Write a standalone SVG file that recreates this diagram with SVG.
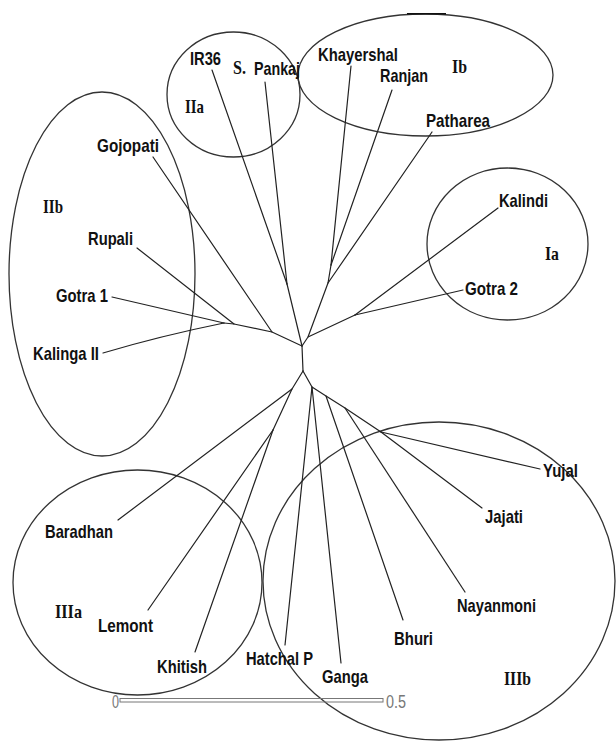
<svg xmlns="http://www.w3.org/2000/svg" width="616" height="745" viewBox="0 0 616 745">
<style>
.lbl{font-family:"Liberation Sans",Arial,sans-serif;font-weight:bold;font-size:19px;fill:#111}
.grp{font-family:"Liberation Serif","Times New Roman",serif;font-weight:bold;font-size:19px;fill:#111}
.scl{font-family:"Liberation Sans",Arial,sans-serif;font-size:19px;fill:#777}
.edge{stroke:#222;stroke-width:1.2;fill:none;stroke-linecap:round;stroke-linejoin:round}
.clu{fill:none;stroke:#333;stroke-width:1.3}
</style>
<rect width="616" height="745" fill="#fff"/>

<g id="clusters">
  <g id="cluster-IIa"><ellipse class="clu" cx="233.5" cy="94.5" rx="66.5" ry="62.5"/><text class="grp" x="185" y="113" textLength="19" lengthAdjust="spacingAndGlyphs">IIa</text></g>
  <g id="cluster-Ib"><ellipse class="clu" cx="425.5" cy="75" rx="127.5" ry="61"/><line x1="407" y1="13.8" x2="446" y2="13.8" stroke="#111" stroke-width="1.6"/><text class="grp" x="452" y="73" textLength="15" lengthAdjust="spacingAndGlyphs">Ib</text></g>
  <g id="cluster-Ia"><ellipse class="clu" cx="507.5" cy="244" rx="80.5" ry="76"/><text class="grp" x="545" y="260" textLength="14" lengthAdjust="spacingAndGlyphs">Ia</text></g>
  <g id="cluster-IIb"><ellipse class="clu" cx="102" cy="274" rx="93" ry="182"/><text class="grp" x="43" y="213" textLength="20" lengthAdjust="spacingAndGlyphs">IIb</text></g>
  <g id="cluster-IIIa"><ellipse class="clu" cx="137.5" cy="582.5" rx="124.5" ry="112.5"/><text class="grp" x="55" y="618" textLength="27" lengthAdjust="spacingAndGlyphs">IIIa</text></g>
  <g id="cluster-IIIb"><ellipse class="clu" cx="439" cy="581" rx="176" ry="159"/><text class="grp" x="504" y="685" textLength="27" lengthAdjust="spacingAndGlyphs">IIIb</text></g>
</g>

<g id="connectors">
  <!-- internal -->
  <polyline class="edge" points="224,323 234,324 272,332 302,346"/>
  <line class="edge" x1="287" y1="284" x2="302" y2="346"/>
  <polyline class="edge" points="302,346 308,337 328,283 331,265"/>
  <line class="edge" x1="308" y1="337" x2="355" y2="315"/>
  <line class="edge" x1="302" y1="346" x2="303" y2="371"/>
  <polyline class="edge" points="303,371 292,389 273,430"/>
  <polyline class="edge" points="303,371 312,387 326,396 345,408 381,432"/>
  <!-- leaves -->
  <line class="edge" x1="212" y1="70" x2="287" y2="284"/>
  <line class="edge" x1="265" y1="82" x2="287" y2="284"/>
  <line class="edge" x1="351" y1="66" x2="331" y2="265"/>
  <line class="edge" x1="392" y1="90" x2="331" y2="265"/>
  <line class="edge" x1="432" y1="132" x2="328" y2="283"/>
  <line class="edge" x1="498" y1="208" x2="355" y2="315"/>
  <line class="edge" x1="463" y1="290" x2="355" y2="315"/>
  <line class="edge" x1="153" y1="157" x2="272" y2="332"/>
  <line class="edge" x1="137" y1="248" x2="234" y2="324"/>
  <line class="edge" x1="112" y1="297" x2="224" y2="323"/>
  <path class="edge" d="M103,353 Q160,336 224,323"/>
  <line class="edge" x1="118" y1="520" x2="292" y2="389"/>
  <line class="edge" x1="148" y1="610" x2="273" y2="430"/>
  <line class="edge" x1="195" y1="652" x2="273" y2="430"/>
  <line class="edge" x1="285" y1="645" x2="312" y2="387"/>
  <line class="edge" x1="341" y1="663" x2="312" y2="387"/>
  <line class="edge" x1="403" y1="620" x2="326" y2="396"/>
  <line class="edge" x1="465" y1="592" x2="345" y2="408"/>
  <line class="edge" x1="482" y1="508" x2="381" y2="432"/>
  <line class="edge" x1="540" y1="469" x2="381" y2="432"/>
</g>

<g id="nodes">
  <g id="n-IR36"><text class="lbl" x="190" y="65" textLength="31" lengthAdjust="spacingAndGlyphs">IR36</text></g>
  <g id="n-SPankaj"><text class="grp" x="233" y="74" textLength="13" lengthAdjust="spacingAndGlyphs">S.</text><text class="lbl" x="254" y="75" textLength="46" lengthAdjust="spacingAndGlyphs">Pankaj</text></g>
  <g id="n-Khayershal"><text class="lbl" x="318" y="61" textLength="80" lengthAdjust="spacingAndGlyphs">Khayershal</text></g>
  <g id="n-Ranjan"><text class="lbl" x="380" y="82" textLength="48" lengthAdjust="spacingAndGlyphs">Ranjan</text></g>
  <g id="n-Patharea"><text class="lbl" x="426" y="127" textLength="64" lengthAdjust="spacingAndGlyphs">Patharea</text></g>
  <g id="n-Gojopati"><text class="lbl" x="97" y="152" textLength="62" lengthAdjust="spacingAndGlyphs">Gojopati</text></g>
  <g id="n-Rupali"><text class="lbl" x="88" y="245" textLength="45" lengthAdjust="spacingAndGlyphs">Rupali</text></g>
  <g id="n-Gotra1"><text class="lbl" x="56" y="302" textLength="52" lengthAdjust="spacingAndGlyphs">Gotra 1</text></g>
  <g id="n-KalingaII"><text class="lbl" x="33" y="360" textLength="66" lengthAdjust="spacingAndGlyphs">Kalinga II</text></g>
  <g id="n-Kalindi"><text class="lbl" x="499" y="207" textLength="49" lengthAdjust="spacingAndGlyphs">Kalindi</text></g>
  <g id="n-Gotra2"><text class="lbl" x="465" y="295" textLength="53" lengthAdjust="spacingAndGlyphs">Gotra 2</text></g>
  <g id="n-Baradhan"><text class="lbl" x="45" y="538" textLength="68" lengthAdjust="spacingAndGlyphs">Baradhan</text></g>
  <g id="n-Lemont"><text class="lbl" x="98" y="632" textLength="55" lengthAdjust="spacingAndGlyphs">Lemont</text></g>
  <g id="n-Khitish"><text class="lbl" x="157" y="673" textLength="50" lengthAdjust="spacingAndGlyphs">Khitish</text></g>
  <g id="n-HatchalP"><text class="lbl" x="246" y="665" textLength="67" lengthAdjust="spacingAndGlyphs">Hatchal P</text></g>
  <g id="n-Ganga"><text class="lbl" x="322" y="683" textLength="46" lengthAdjust="spacingAndGlyphs">Ganga</text></g>
  <g id="n-Bhuri"><text class="lbl" x="394" y="645" textLength="39" lengthAdjust="spacingAndGlyphs">Bhuri</text></g>
  <g id="n-Nayanmoni"><text class="lbl" x="457" y="612" textLength="79" lengthAdjust="spacingAndGlyphs">Nayanmoni</text></g>
  <g id="n-Jajati"><text class="lbl" x="485" y="523" textLength="38" lengthAdjust="spacingAndGlyphs">Jajati</text></g>
  <g id="n-Yujal"><text class="lbl" x="543" y="477" textLength="35" lengthAdjust="spacingAndGlyphs">Yujal</text></g>
</g>

<g id="scale-bar">
  <rect x="120" y="698.5" width="263" height="3.5" fill="none" stroke="#777" stroke-width="1"/>
  <text class="scl" x="112" y="708" textLength="7" lengthAdjust="spacingAndGlyphs">0</text>
  <text class="scl" x="386" y="708" textLength="20" lengthAdjust="spacingAndGlyphs">0.5</text>
</g>
</svg>
